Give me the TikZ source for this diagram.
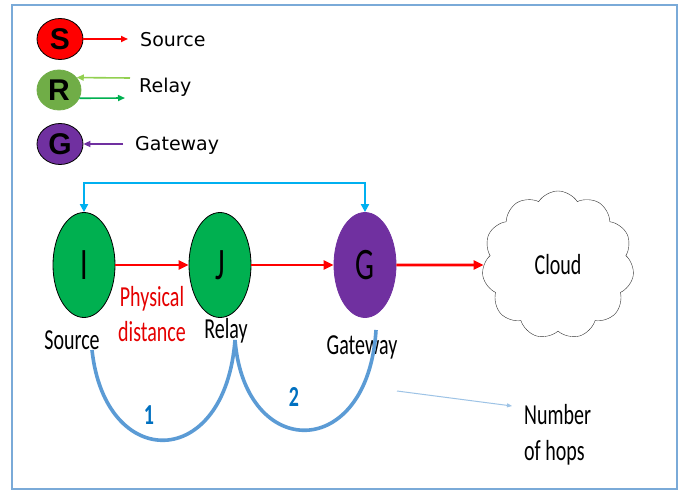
\documentclass[tikz,border=0pt]{standalone}
\usepackage{fontspec}
\usepackage{graphicx}
\setmainfont{Carlito}
\newfontfamily\legendfont{DejaVu Sans}
\newfontfamily\keyfont{Liberation Sans}
\usetikzlibrary{arrows.meta,shapes.geometric,shapes.symbols}

\definecolor{nodegreen}{HTML}{00B050}
\definecolor{relaygreen}{HTML}{70AD47}
\definecolor{lightgreen}{HTML}{92D050}
\definecolor{gwpurple}{HTML}{7030A0}
\definecolor{linkblue}{HTML}{00B0F0}
\definecolor{hopblue}{HTML}{5B9BD5}
\definecolor{numblue}{HTML}{0070C0}
\definecolor{framecol}{HTML}{7AAAD8}
\definecolor{thinblue}{HTML}{9DC3E6}

% texto estirado en vertical
\newcommand{\tall}[2][1.45]{\scalebox{1}[#1]{#2}}

\tikzset{
  keycirc/.style={ellipse, draw=black, line width=0.8pt, minimum width=46pt,
    minimum height=41pt, inner sep=0pt, font=\keyfont\bfseries\fontsize{30}{30}\selectfont},
  keytext/.style={anchor=west, inner sep=0pt, font=\legendfont\fontsize{19}{22}\selectfont},
  keyarrow/.style={>={Triangle[length=7pt,width=6pt]}, ->, line width=1.6pt},
  bignode/.style={ellipse, draw=black, line width=0.8pt, minimum width=62pt,
    minimum height=105pt, inner sep=0pt, font=\fontsize{30}{32}\selectfont},
  lbl/.style={inner sep=0pt, font=\fontsize{20}{22}\selectfont},
  redarrow/.style={->, red, line width=2.8pt},
  hop/.style={hopblue, line width=3.6pt},
  hopnum/.style={inner sep=0pt, text=numblue, font=\bfseries\fontsize{20}{22}\selectfont},
}

\begin{document}
\begin{tikzpicture}[x=1pt, y=-1pt, >={Triangle[length=10pt,width=9pt]}]

    % Marco
    \useasboundingbox (0,0) rectangle (683,494);
    \fill[white] (0,0) rectangle (683,494);
    \draw[framecol, line width=1.3pt] (12,5) rectangle (677,489);

    % Leyenda
    \node[keycirc, fill=red] (keyS) at (60,39) {S};
    \node[keycirc, fill=relaygreen, draw=relaygreen,
      minimum width=44pt, minimum height=40pt] (keyR) at (59,90) {R};
    \node[keycirc, fill=gwpurple] (keyG) at (60,144) {G};
    \node[keytext] (keySource) at (140,40) {Source};
    \node[keytext] (keyRelay) at (139,87) {Relay};
    \node[keytext] (keyGateway) at (135,145) {Gateway};
    \coordinate (sTip) at (128,39);
    \coordinate (rIn) at (130,78);
    \coordinate (rOut) at (125,98);
    \coordinate (gIn) at (123,144);
    \draw[keyarrow, red] (keyS) -- (sTip);
    \draw[keyarrow, lightgreen] (rIn) -- (keyR.35);
    \draw[keyarrow, nodegreen] (keyR.-22) -- (rOut);
    \draw[keyarrow, gwpurple] (gIn) -- (keyG);

    % Nodos
    \node[bignode, fill=nodegreen] (i) at (84,265) {\tall[1.5]{I}};
    \node[bignode, fill=nodegreen] (j) at (220,265) {\tall[1.5]{J}};
    \node[bignode, fill=gwpurple, draw=gwpurple] (g) at (365,265) {\tall[1.5]{G}};
    \node[cloud, draw=black!80, fill=white, cloud puffs=11, cloud puff arc=115,
      minimum width=152pt, minimum height=148pt, aspect=1.05, inner sep=0pt,
      font=\fontsize{20}{22}\selectfont] (cloud) at (558,265) {\tall{Cloud}};

    % Enlaces
    \draw[redarrow] (i) -- (j);
    \draw[redarrow] (j) -- (g);
    \draw[redarrow] (g) -- (cloud);
    \draw[>={Triangle[length=8pt,width=8pt]}, <->, linkblue, line width=2.6pt]
      (i.north) -- ++(0,-29) -| (g.north);

    % Etiquetas
    \node[lbl] (srcLbl) at (72,340) {\tall{Source}};
    \node[lbl, text=red!90!black, align=center, font=\fontsize{20}{35}\selectfont]
      (distLbl) at (152,314) {\tall{Physical}\\\tall{distance}};
    \node[lbl] (relayLbl) at (226,331) {\tall{Relay}};
    \node[lbl] (gwLbl) at (362,347) {\tall{Gateway}};

    % Saltos
    \coordinate (h0) at (92,350);
    \coordinate (h1) at (235,340);
    \coordinate (h2) at (376,330);
    \draw[hop] (h0) .. controls (105,472) and (225,472) .. (h1);
    \draw[hop] (h1) .. controls (245,462) and (368,462) .. (h2);
    \node[hopnum] (n1) at (149,415) {\tall{1}};
    \node[hopnum] (n2) at (294,397) {\tall{2}};

    \node[lbl, anchor=west, align=left, font=\fontsize{20}{36}\selectfont]
      (hops) at (524,435) {\tall{Number}\\\tall{of hops}};
    \coordinate (hTail) at (397,391);
    \coordinate (hTip) at (512,406);
    \draw[>={Triangle[length=5pt,width=4pt]}, ->, thinblue, line width=1pt] (hTail) -- (hTip);

  \end{tikzpicture}
\end{document}
